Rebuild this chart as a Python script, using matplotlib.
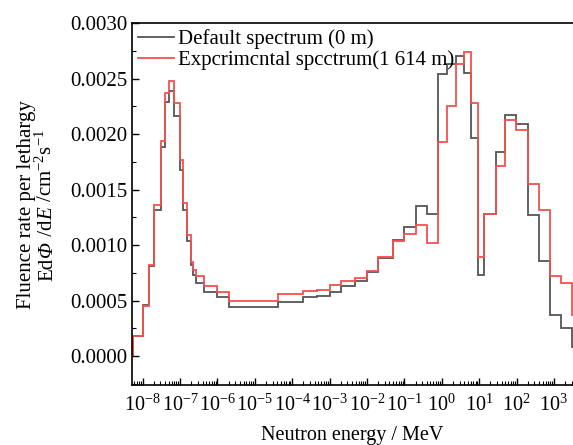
import numpy as np
import matplotlib
matplotlib.use("Agg")
import matplotlib.pyplot as plt
from matplotlib.ticker import LogLocator, MultipleLocator, NullFormatter

plt.rcParams['font.family'] = ['Liberation Serif', 'DejaVu Serif']
plt.rcParams['mathtext.fontset'] = 'custom'
plt.rcParams['mathtext.rm'] = 'Liberation Serif'
plt.rcParams['mathtext.it'] = 'Liberation Serif:italic'

# bin edges (MeV)
edges = [5.5e-9, 1.0e-8, 1.48e-8, 2.0e-8, 3.05e-8, 3.97e-8, 5.08e-8, 7.04e-8,
         1.0e-7, 1.22e-7, 1.57e-7, 1.93e-7, 2.27e-7, 2.68e-7, 4.38e-7, 1.0e-6,
         2.08e-6, 4.3e-5, 2.0e-4, 4.52e-4, 1.0e-3, 2.02e-3, 4.93e-3, 1.0e-2,
         1.97e-2, 4.95e-2, 0.1, 0.204, 0.395, 0.777, 1.35, 2.4, 3.93, 6.2,
         9.6, 13.6, 27.6, 49, 96, 198, 405, 781, 1540, 2970, 6000]

# fluence rate per lethargy, default spectrum (0 m)
default = [0.00018, 0.00046, 0.00081, 0.00132, 0.00188, 0.00229, 0.00239, 0.00216,
           0.00168, 0.00132, 0.00104, 0.00082, 0.00073, 0.00066, 0.00058, 0.00053,
           0.00044, 0.00049, 0.00053, 0.00054, 0.00058, 0.00063, 0.00068, 0.00076,
           0.00088, 0.00105, 0.00116, 0.00135, 0.00128, 0.00254, 0.00263, 0.00270,
           0.00255, 0.00196, 0.00073, 0.00128, 0.00184, 0.00217, 0.00209, 0.00127,
           0.00086, 0.00037, 0.00025, 0.00008]

# experimental spectrum (1 614 m)
expt = [0.00018, 0.00045, 0.00082, 0.00136, 0.00194, 0.00237, 0.00248, 0.00228,
        0.00177, 0.00138, 0.00109, 0.00085, 0.00078, 0.00072, 0.00063, 0.00058,
        0.00050, 0.00056, 0.00059, 0.00060, 0.00064, 0.00068, 0.00070, 0.00077,
        0.00089, 0.00104, 0.00110, 0.00118, 0.00102, 0.00193, 0.00225, 0.00263,
        0.00274, 0.00228, 0.00089, 0.00128, 0.00171, 0.00213, 0.00204, 0.00155,
        0.00132, 0.00072, 0.00066, 0.00037]

fs = 15
W, H = 573, 445
fig = plt.figure(figsize=(W / 100, H / 100), dpi=100)
ax = fig.add_axes([132/W, 1-385/H, 1-132/W, (385-23)/H])

ax.stairs(default, edges, color='#555555', lw=1.3, label='Default spectrum (0 m)')
ax.stairs(expt, edges, color='#f45050', lw=1.3, label='Expcrimcntal spcctrum(1 614 m)')

ax.set_xscale('log')
ax.set_xlim(5.2e-9, 3240)
ax.set_ylim(-0.00026, 0.0030)

ax.xaxis.set_major_locator(LogLocator(base=10, numticks=20))
ax.xaxis.set_minor_locator(LogLocator(base=10, subs=np.arange(2, 10), numticks=20))
ax.xaxis.set_minor_formatter(NullFormatter())
ax.yaxis.set_major_locator(MultipleLocator(0.0005))
ax.yaxis.set_minor_locator(MultipleLocator(0.00025))
ax.yaxis.set_major_formatter(plt.FuncFormatter(lambda v, p: '%.4f' % v))

ax.tick_params(which='both', direction='in', top=False, right=False, labelsize=fs - 0.5)
ax.tick_params(which='major', length=5, width=1)
ax.tick_params(axis='x', which='major', pad=7)
ax.tick_params(which='minor', length=3, width=0.8)
ax.tick_params(axis='y', labelsize=fs)
ax.spines['right'].set_visible(False)
for s in ['left', 'bottom', 'top']:
    ax.spines[s].set_linewidth(1.2)

ax.set_xlabel('Neutron energy / MeV', fontsize=fs - 0.5, labelpad=7)

# y label: two rotated lines, second one built from pieces (italic Phi and E)
yc = 1 - 205 / H
fig.text(31 / W, yc, 'Fluence rate per lethargy', rotation=90, fontsize=fs,
         rotation_mode='anchor', ha='center', va='baseline')
parts = [('Ed', 'normal'), ('\u03a6', 'italic'), (' /d', 'normal'), ('E', 'italic'),
         (' /cm$^{-2}$s$^{-1}$', 'normal')]
renderer = fig.canvas.get_renderer()
texts = []
for s, st in parts:
    t = fig.text(0, 0, s, rotation=90, fontsize=fs, style=st,
                 rotation_mode='anchor', ha='left', va='baseline')
    texts.append(t)
lens = [t.get_window_extent(renderer).height for t in texts]
y = 205 + sum(lens) / 2
for t, L in zip(texts, lens):
    t.set_position((52 / W, 1 - y / H))
    y -= L

ax.legend(loc='upper left', frameon=False, fontsize=fs, handlelength=1.7,
          handletextpad=0.2, labelspacing=0.05, borderaxespad=0.2,
          borderpad=0.1)

fig.savefig('out.png', dpi=100)
